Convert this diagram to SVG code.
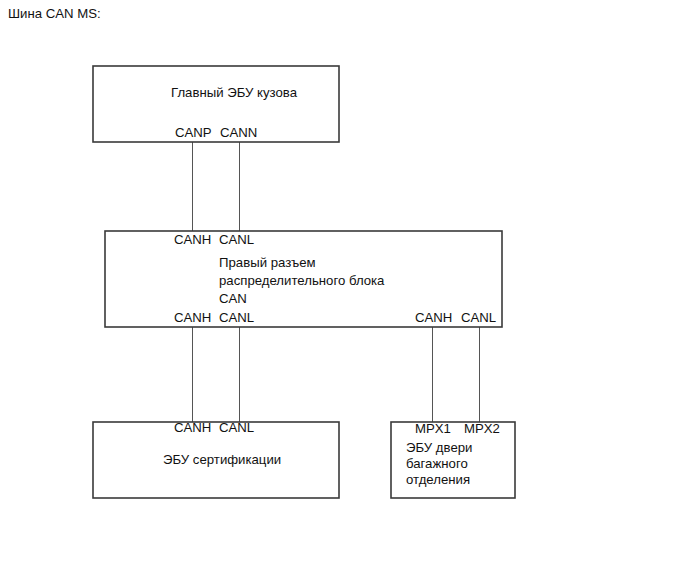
<svg xmlns="http://www.w3.org/2000/svg" width="690" height="562" viewBox="0 0 690 562">
<style>
.box{fill:#fff;stroke:#3a3a3a;stroke-width:1.6}
.wire{stroke:#555;stroke-width:1;fill:none}
text{font-family:"Liberation Sans",Arial,sans-serif;font-size:13.2px;fill:#111}
</style>
<rect width="690" height="562" fill="#fff"/>
<text x="8" y="18">Шина CAN MS:</text>
<g id="connectors">
<line class="wire" x1="192.5" y1="142" x2="192.5" y2="231"/>
<line class="wire" x1="239.5" y1="142" x2="239.5" y2="231"/>
<line class="wire" x1="192.5" y1="327" x2="192.5" y2="422"/>
<line class="wire" x1="239.5" y1="327" x2="239.5" y2="422"/>
<line class="wire" x1="432.5" y1="327" x2="432.5" y2="422"/>
<line class="wire" x1="479.5" y1="327" x2="479.5" y2="422"/>
</g>
<g id="main-body-ecu">
<rect class="box" x="93" y="66" width="246" height="76"/>
<text x="171" y="97">Главный ЭБУ кузова</text>
<text x="175" y="137">CANP</text>
<text x="220" y="137">CANN</text>
</g>
<g id="junction-connector">
<rect class="box" x="105" y="231" width="397" height="96"/>
<text x="174" y="244">CANH</text>
<text x="219" y="244">CANL</text>
<text x="219" y="267">Правый разъем</text>
<text x="219" y="285">распределительного блока</text>
<text x="219" y="303">CAN</text>
<text x="174" y="322">CANH</text>
<text x="219" y="322">CANL</text>
<text x="415" y="322">CANH</text>
<text x="461" y="322">CANL</text>
</g>
<g id="certification-ecu">
<rect class="box" x="93" y="422" width="246" height="76"/>
<text x="174" y="432">CANH</text>
<text x="219" y="432">CANL</text>
<text x="163" y="464">ЭБУ сертификации</text>
</g>
<g id="back-door-ecu">
<rect class="box" x="391" y="422" width="124" height="76"/>
<text x="415" y="433">MPX1</text>
<text x="464" y="433">MPX2</text>
<text x="406" y="452">ЭБУ двери</text>
<text x="406" y="468">багажного</text>
<text x="406" y="484">отделения</text>
</g>
</svg>
